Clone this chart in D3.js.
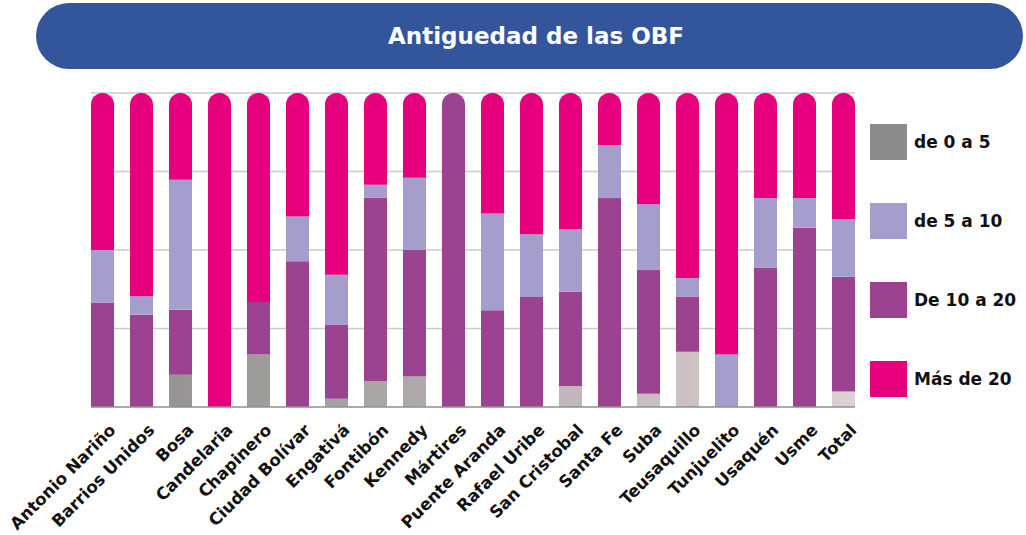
<!DOCTYPE html>
<html>
<head>
<meta charset="utf-8">
<script src="https://cdn.jsdelivr.net/npm/d3@7"></script>
<style>
  body { margin: 0; background: #fff; }
  svg { display: block; font-family: "Century Gothic", "DejaVu Sans", sans-serif; font-weight: bold; }
</style>
</head>
<body>
<div id="chart"></div>
<script>
const categories = ['Antonio Nariño', 'Barrios Unidos', 'Bosa', 'Candelaria', 'Chapinero',
  'Ciudad Bolívar', 'Engativá', 'Fontibón', 'Kennedy', 'Mártires', 'Puente Aranda',
  'Rafael Uribe', 'San Cristobal', 'Santa Fe', 'Suba', 'Teusaquillo', 'Tunjuelito',
  'Usaquén', 'Usme', 'Total'];
const de0a5 = [0, 0, 10.3, 0, 16.7, 0, 2.6, 8.3, 9.7, 0, 0, 0, 6.7, 0, 4.2, 17.6, 0, 0, 0, 4.9];
const de5a10 = [16.7, 5.9, 41.4, 0, 0, 14.3, 15.8, 4.2, 22.9, 0, 30.8, 20.0, 20.0, 16.7, 20.8, 5.9, 16.7, 22.2, 9.5, 18.4];
const de10a20 = [33.3, 29.4, 20.7, 0, 16.7, 46.4, 23.7, 58.3, 40.4, 100, 30.8, 35.0, 30.0, 66.7, 39.6, 17.6, 0, 44.4, 57.1, 36.6];
const mas20 = [50.0, 64.7, 27.6, 100, 66.6, 39.3, 57.9, 29.2, 27.0, 0, 38.4, 45.0, 43.3, 16.6, 35.4, 58.9, 83.3, 33.4, 33.4, 40.1];
const seriesNames = ['de 0 a 5', 'de 5 a 10', 'De 10 a 20', 'Más de 20'];
const yTicks = [0, 25, 50, 75, 100];
const title = 'Antiguedad de las OBF';

const width = 1026;
const height = 535;
const plot = { left: 83, right: 863, top: 93, bottom: 407 };

const svg = d3.select('#chart')
  .append('svg')
  .attr('width', width)
  .attr('height', height);

// title banner
svg.append('rect')
  .attr('x', 36)
  .attr('y', 3)
  .attr('width', 987)
  .attr('height', 66)
  .attr('rx', 33)
  .attr('ry', 33)
  .attr('fill', '#32559b');
svg.append('text')
  .attr('x', 536)
  .attr('y', 36)
  .attr('dy', '0.35em')
  .attr('text-anchor', 'middle')
  .attr('fill', '#fff')
  .style('font-size', '23px')
  .text(title);

const rows = categories.map((c, i) => ({
  category: c,
  de0a5: de0a5[i],
  de10a20: de10a20[i],
  de5a10: de5a10[i],
  mas20: mas20[i],
}));

// stack order from the bottom: 0-5, 10-20, 5-10, más de 20
const keys = ['de0a5', 'de10a20', 'de5a10', 'mas20'];
const stack = d3.stack().keys(keys)(rows);

const x = d3.scaleBand()
  .domain(categories)
  .range([plot.left, plot.right])
  .paddingInner(0.41)
  .paddingOuter(0.205);
const y = d3.scaleLinear().domain([0, 100]).range([plot.bottom, plot.top]);
const bw = x.bandwidth();

// gradient for the first series, grey to pale pink across the chart
const defs = svg.append('defs');
const grad = defs.append('linearGradient')
  .attr('id', 'greyGrad')
  .attr('gradientUnits', 'userSpaceOnUse')
  .attr('x1', x(categories[0]))
  .attr('x2', x(categories[categories.length - 1]) + bw)
  .attr('y1', 0)
  .attr('y2', 0);
grad.append('stop').attr('offset', '0%').attr('stop-color', '#8c8c8c');
grad.append('stop').attr('offset', '100%').attr('stop-color', '#ded1d2');

const colors = {
  de0a5: 'url(#greyGrad)',
  de5a10: '#a59ecc',
  de10a20: '#9b4290',
  mas20: '#e6007e',
};
const legendColors = ['#8c8c8c', '#a59ecc', '#9b4290', '#e6007e'];

// gridlines
const gx1 = x(categories[0]);
const gx2 = x(categories[categories.length - 1]) + bw;
svg.append('g')
  .selectAll('line')
  .data(yTicks.filter(t => t > 0))
  .join('line')
  .attr('x1', gx1)
  .attr('x2', gx2)
  .attr('y1', d => y(d))
  .attr('y2', d => y(d))
  .attr('stroke', '#cbcbcb')
  .attr('stroke-width', 1.5);

// bars
const r = bw / 2;
stack.forEach(layer => {
  const key = layer.key;
  svg.append('g')
    .selectAll('path')
    .data(layer.filter(d => d[1] - d[0] > 0))
    .join('path')
    .attr('fill', colors[key])
    .attr('d', d => {
      const x0 = x(d.data.category);
      const yTop = y(d[1]);
      const yBot = y(d[0]);
      if (d[1] >= 99.9) {
        return `M${x0},${yBot}V${yTop + r}A${r},${r} 0 0 1 ${x0 + bw},${yTop + r}V${yBot}Z`;
      }
      return `M${x0},${yBot}V${yTop}H${x0 + bw}V${yBot}Z`;
    });
});

// baseline
svg.append('line')
  .attr('x1', gx1)
  .attr('x2', gx2)
  .attr('y1', y(0))
  .attr('y2', y(0))
  .attr('stroke', '#8f8f8f')
  .attr('stroke-width', 1.5);

// category labels
svg.append('g')
  .selectAll('text')
  .data(categories)
  .join('text')
  .attr('transform', d => `translate(${x(d) + bw / 2 + 10},${plot.bottom + 20}) rotate(-45)`)
  .attr('dy', '0.35em')
  .attr('text-anchor', 'end')
  .attr('fill', '#111')
  .style('font-size', '16.6px')
  .text(d => d);

// legend
const legend = svg.append('g')
  .selectAll('g')
  .data(seriesNames)
  .join('g')
  .attr('transform', (d, i) => `translate(870,${124 + i * 79})`);
legend.append('rect')
  .attr('width', 37)
  .attr('height', 36)
  .attr('fill', (d, i) => legendColors[i]);
legend.append('text')
  .attr('x', 44)
  .attr('y', 18)
  .attr('dy', '0.35em')
  .attr('fill', '#111')
  .style('font-size', '17px')
  .text(d => d);
</script>
</body>
</html>
